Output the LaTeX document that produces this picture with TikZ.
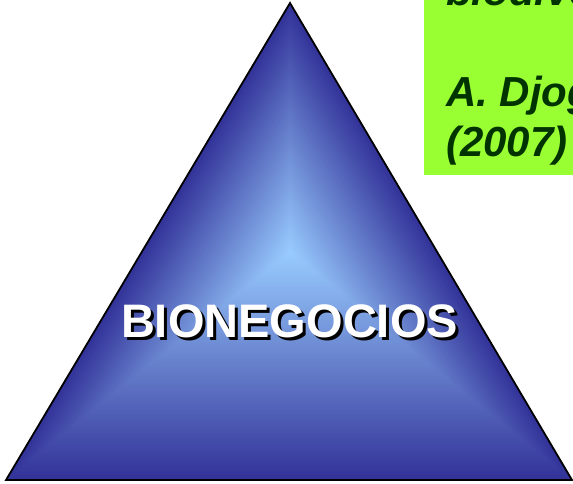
\documentclass[tikz,border=0pt]{standalone}
\usepackage{fontspec}
\newfontfamily\arialfont{Liberation Sans}
\definecolor{pyrdark}{RGB}{51,51,153}
\definecolor{pyrlight}{RGB}{153,204,255}
\definecolor{notegreen}{RGB}{153,255,51}
\definecolor{notetext}{RGB}{0,51,0}
\usetikzlibrary{calc}
\tikzset{
  bigword/.style={font=\arialfont\bfseries\fontsize{47}{50}\selectfont, anchor=base, inner sep=0pt},
  noteline/.style={font=\arialfont\bfseries\itshape\fontsize{42}{50}\selectfont, text=notetext, anchor=base west, inner sep=0pt}
}

\begin{document}
\begin{tikzpicture}[x=1pt,y=-1pt]
  \useasboundingbox (0,0) rectangle (573,483);
  \clip (0,0) rectangle (573,483);

  % Pyramid corners and centre of the glow
  \coordinate (apex) at (290,3);
  \coordinate (lbase) at (6,480);
  \coordinate (rbase) at (572,480);
  \coordinate (ctr) at (290,252);

  % Shaded fill, dark at the border and light in the middle
  \foreach \k in {0,...,90}{
    \pgfmathsetmacro\s{1-\k/90}
    \pgfmathsetmacro\p{100*\k/90}
    \fill[pyrlight!\p!pyrdark] ($(ctr)!\s!(apex)$) -- ($(ctr)!\s!(lbase)$) -- ($(ctr)!\s!(rbase)$) -- cycle;
  }
  \draw[black, line width=1.8pt, line join=miter] (apex) -- (lbase) -- (rbase) -- cycle;

  % Title with its shadow
  \node[bigword, text=black] (bioshadow) at (292.5,340) {BIONEGOCIOS};
  \node[bigword, text=white] (bio) at (289.5,337) {BIONEGOCIOS};

  % Quote box
  \fill[notegreen] (424,-10) rectangle (600,175);
  \node[noteline] (noteA) at (446,5) {biodiversidad};
  \node[noteline] (noteB) at (446,106) {A. Djoghlaf};
  \node[noteline] (noteC) at (446,156) {(2007)};
\end{tikzpicture}
\end{document}
